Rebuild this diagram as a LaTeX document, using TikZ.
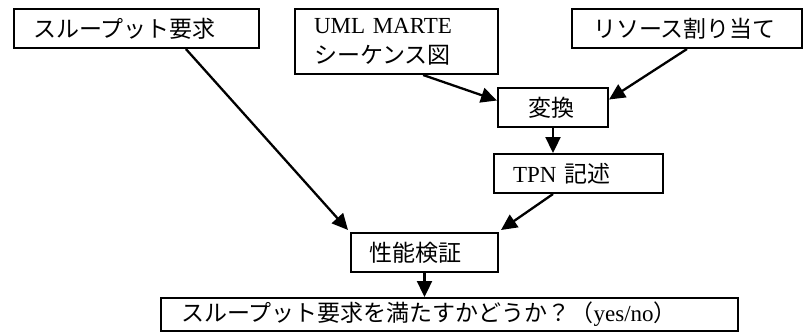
\documentclass[tikz,border=0pt]{standalone}
\usepackage{fontspec}
\setmainfont{Liberation Serif}
\newfontfamily\jp{Noto Sans CJK JP}
\usetikzlibrary{arrows.meta,calc}
\begin{document}
\begin{tikzpicture}[x=1pt,y=-1pt,
  box/.style={draw, line width=2pt, rectangle, anchor=north west, inner ysep=0pt,
    align=left, font=\fontsize{23}{30}\selectfont},
  arr/.style={line width=2.3pt, -{Triangle[length=16pt,width=15pt]}}]
\useasboundingbox (0,0) rectangle (803,333);
\node[box, inner xsep=19pt, text width=207pt, minimum height=39pt] (thr) at (13,8) {\jp スループット要求};
\node[box, inner xsep=19pt, text width=165pt, minimum height=65pt] (uml) at (294,8) {UML MARTE\\{\jp シーケンス図}};
\node[box, inner xsep=21pt, text width=188pt, minimum height=39pt] (res) at (571,8) {\jp リソース割り当て};
\node[box, inner xsep=30pt, text width=50pt, minimum height=39pt] (conv) at (497,87) {\jp 変換};
\node[box, inner xsep=19pt, text width=131pt, minimum height=39pt] (tpn) at (493,153) {TPN {\jp 記述}};
\node[box, inner xsep=18pt, text width=111pt, minimum height=39pt] (ver) at (350,232) {\jp 性能検証};
\node[box, inner xsep=20pt, text width=537pt, minimum height=33pt] (out) at (160,297) {{\jp スループット要求を満たすかどうか？（}yes/no{\jp ）}};
\draw[arr] ($(thr.south west)!0.7!(thr.south east)$) -- ([shift={(-2,-2)}]ver.north west);
\draw[arr] ($(uml.south west)!0.63!(uml.south east)$) -- ([yshift=7pt]conv.west);
\draw[arr] (res.south) -- ([yshift=8pt]conv.east);
\draw[arr] (conv.south) -- (conv.south |- tpn.north);
\draw[arr] (conv.south |- tpn.south) -- ([shift={(2,-2)}]ver.north east);
\draw[arr] (ver.south) -- (ver.south |- out.north);
\end{tikzpicture}
\end{document}
